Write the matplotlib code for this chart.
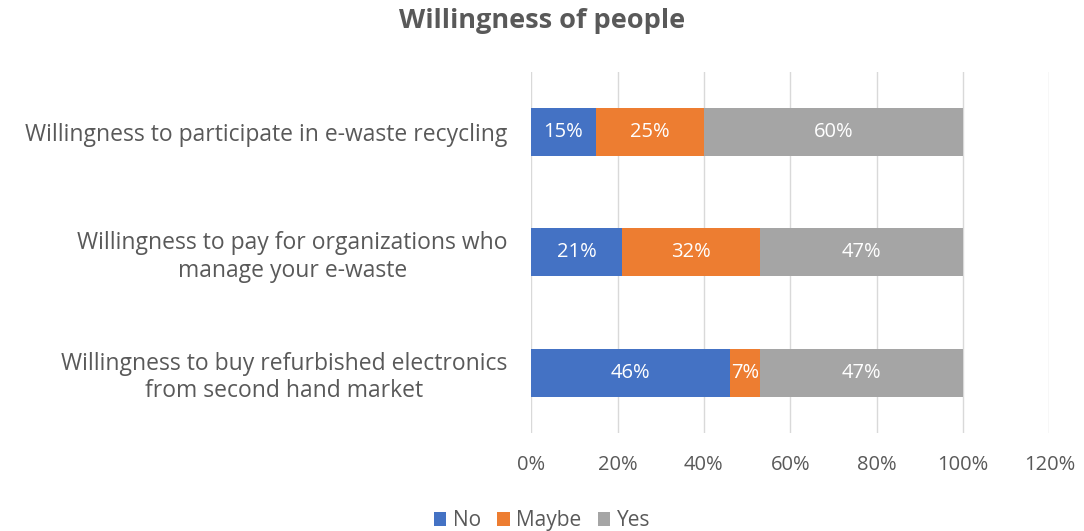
import numpy as np
import matplotlib.pyplot as plt

plt.rcParams["font.family"] = ["Open Sans", "DejaVu Sans"]

categories = [
    "Willingness to participate in e-waste recycling",
    "Willingness to pay for organizations who\nmanage your e-waste",
    "Willingness to buy refurbished electronics\nfrom second hand market",
]
no_vals = [15, 21, 46]
maybe_vals = [25, 32, 7]
yes_vals = [60, 47, 47]
series_names = ["No", "Maybe", "Yes"]
colors = ["#4472C4", "#ED7D31", "#A5A5A5"]
x_ticks = [0, 20, 40, 60, 80, 100, 120]
TXT = "#595959"

fig = plt.figure(figsize=(10.84, 5.31), dpi=100)
ax = fig.add_axes([0.49, 0.185, 0.478, 0.68])

y = np.arange(len(categories))[::-1]
left = np.zeros(len(categories))
for vals, name, c in zip([no_vals, maybe_vals, yes_vals], series_names, colors):
    v = np.array(vals, dtype=float)
    ax.barh(y, v, left=left, height=0.4, color=c, label=name, zorder=3)
    for yi, l, w in zip(y, left, v):
        ax.text(l + w / 2, yi, f"{int(w)}%", ha="center", va="center",
                color="white", fontsize=14.5, zorder=4)
    left += v

ax.set_xlim(0, 120)
ax.set_ylim(-0.5, 2.5)
ax.set_xticks(x_ticks)
ax.set_xticklabels([f"{t}%" for t in x_ticks], color=TXT, fontsize=14.5)
ax.set_yticks(y)
ax.set_yticklabels(categories, color=TXT, fontsize=16.5, multialignment="center")
ax.tick_params(axis="y", length=0, pad=17)
ax.tick_params(axis="x", length=0, pad=16)
ax.grid(axis="x", color="#D9D9D9", linewidth=1, zorder=0)
for s in ax.spines.values():
    s.set_visible(False)

fig.suptitle("Willingness of people", x=0.5, y=0.985, fontsize=19.5,
             fontweight="bold", color=TXT)

handles, labels = ax.get_legend_handles_labels()
fig.legend(handles, labels, loc="lower center", bbox_to_anchor=(0.5, -0.036),
           ncol=3, frameon=False, fontsize=15, handlelength=0.6,
           handleheight=0.6, handletextpad=0.3, columnspacing=0.8,
           labelcolor=TXT)

fig.savefig("out.png", dpi=100)
